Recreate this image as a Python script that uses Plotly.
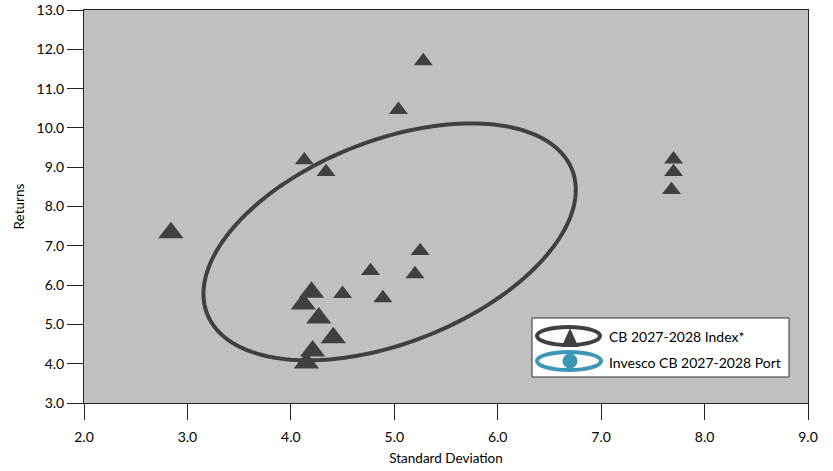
import numpy as np
import plotly.graph_objects as go

# ---- data ----
std_small = [4.13, 4.34, 5.04, 5.28, 7.70, 7.70, 7.68, 5.25, 5.20, 4.77, 4.50, 4.89]
ret_small = [9.18, 8.88, 10.46, 11.70, 9.20, 8.88, 8.42, 6.87, 6.28, 6.36, 5.78, 5.67]
std_large = [2.84, 4.20, 4.12, 4.27, 4.41, 4.21, 4.15]
ret_large = [7.33, 5.82, 5.52, 5.16, 4.66, 4.32, 4.02]

# confidence ellipse parameters (data units)
ell_cx, ell_cy = 4.955, 7.10
ell_ax, ell_by = 1.80, 3.015
ell_phase_deg = 64.0

x_ticks = [2.0, 3.0, 4.0, 5.0, 6.0, 7.0, 8.0, 9.0]
y_ticks = [3.0, 4.0, 5.0, 6.0, 7.0, 8.0, 9.0, 10.0, 11.0, 12.0, 13.0]
legend_names = ["CB 2027-2028 Index*", "Invesco CB 2027-2028 Port"]

DARK = "#404040"
TEAL = "#3C97B6"
FONT = "Lato"

fig = go.Figure()
fig.add_trace(go.Scatter(x=std_small, y=ret_small, mode="markers",
                         marker=dict(symbol="triangle-up", size=16.5, color=DARK,
                                     line=dict(width=0)),
                         showlegend=False, hoverinfo="x+y"))
fig.add_trace(go.Scatter(x=std_large, y=ret_large, mode="markers",
                         marker=dict(symbol="triangle-up", size=22, color=DARK,
                                     line=dict(width=0)),
                         showlegend=False, hoverinfo="x+y"))

# ellipse as a path in data coordinates
t = np.linspace(0, 2 * np.pi, 181)
ph = np.deg2rad(ell_phase_deg)
ex = ell_cx + ell_ax * np.cos(t)
ey = ell_cy + ell_by * np.cos(t - ph)
path = "M" + " L".join(f"{a:.4f},{b:.4f}" for a, b in zip(ex, ey)) + " Z"

shapes = [dict(type="path", xref="x", yref="y", path=path,
               line=dict(color=DARK, width=4), layer="above")]

# ---- custom legend (pixel -> paper helpers) ----
W, H = 833, 471
L, T, R, B = 84, 10, 808, 403
def px(v):
    return (v - L) / (R - L)
def py(v):
    return (B - v) / (B - T)

shapes.append(dict(type="rect", xref="paper", yref="paper",
                   x0=px(532), x1=px(789), y0=py(377), y1=py(318),
                   fillcolor="white", line=dict(color="#333333", width=1), layer="above"))
shapes.append(dict(type="circle", xref="paper", yref="paper",
                   x0=px(537), x1=px(600), y0=py(345), y1=py(327),
                   line=dict(color=DARK, width=4), layer="above"))
tri = f"M{px(561.5)},{py(347)} L{px(578.5)},{py(347)} L{px(570)},{py(328)} Z"
shapes.append(dict(type="path", xref="paper", yref="paper", path=tri,
                   fillcolor=DARK, line=dict(width=0), layer="above"))
shapes.append(dict(type="circle", xref="paper", yref="paper",
                   x0=px(537), x1=px(601), y0=py(370), y1=py(352),
                   line=dict(color=TEAL, width=4), layer="above"))
shapes.append(dict(type="circle", xref="paper", yref="paper",
                   x0=px(562.5), x1=px(577.5), y0=py(368.5), y1=py(353.5),
                   fillcolor=TEAL, line=dict(width=0), layer="above"))

annotations = [
    dict(x=px(607), y=py(336), xref="paper", yref="paper", text=legend_names[0],
         showarrow=False, xanchor="left", yanchor="middle",
         font=dict(family=FONT, size=14, color="black")),
    dict(x=px(607), y=py(362), xref="paper", yref="paper", text=legend_names[1],
         showarrow=False, xanchor="left", yanchor="middle",
         font=dict(family=FONT, size=14, color="black")),
]

fig.update_layout(
    width=W, height=H,
    margin=dict(l=L, r=W - R, t=T, b=H - B, pad=0, autoexpand=False),
    paper_bgcolor="white", plot_bgcolor="#C0C0C0",
    font=dict(family=FONT, size=14, color="black"),
    shapes=shapes, annotations=annotations,
    showlegend=False,
)
fig.update_xaxes(range=[2, 9], tickvals=x_ticks, ticktext=[f"{v:.1f}" for v in x_ticks],
                 showgrid=False, zeroline=False, showline=True, mirror=True,
                 linecolor="#222222", linewidth=1, ticks="outside", ticklen=16,
                 tickcolor="#222222", tickwidth=1, automargin=False,
                 ticklabelstandoff=5,
                 title=dict(text="Standard Deviation", font=dict(size=13.5), standoff=9))
fig.update_yaxes(range=[3, 13], tickvals=y_ticks, ticktext=[f"{v:.1f}" for v in y_ticks],
                 showgrid=False, zeroline=False, showline=True, mirror=True,
                 linecolor="#222222", linewidth=1, ticks="outside", ticklen=16,
                 tickcolor="#222222", tickwidth=1, automargin=False,
                 title=dict(text="Returns", font=dict(size=13.5), standoff=8))

fig.write_html("out.html", config={"displayModeBar": False},
               post_script="document.body.style.margin='0';document.body.style.overflow='hidden';")
